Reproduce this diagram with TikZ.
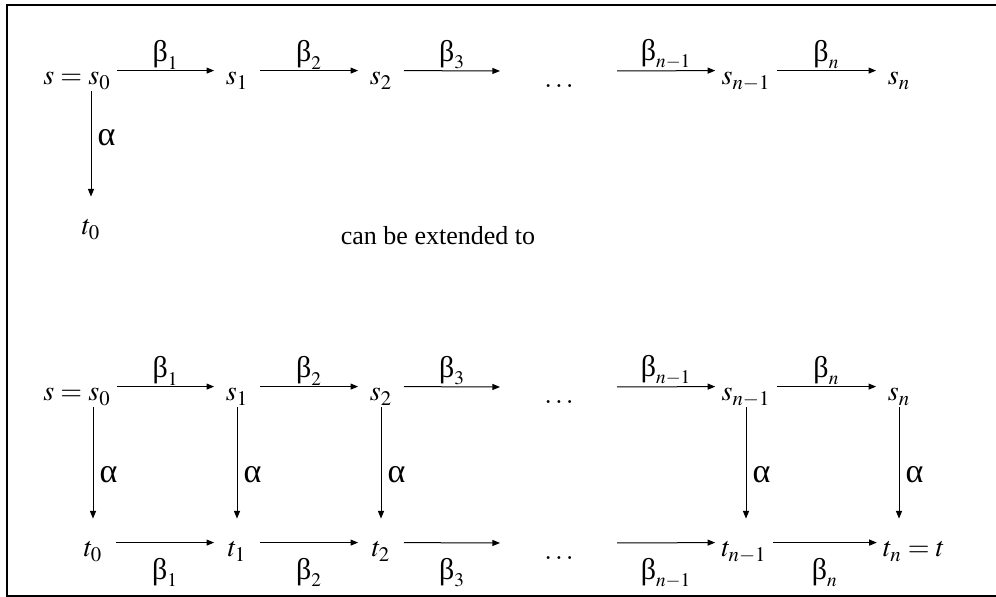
\documentclass[tikz,border=0pt]{standalone}
\usepackage{amsmath}
\usepackage{mathptmx}
\usepackage[no-math]{fontspec}
\setmainfont{Liberation Serif}
\usetikzlibrary{arrows.meta,positioning}

\newcommand{\gbeta}{\text{\fontsize{15}{15}\selectfont β}}
\newcommand{\galpha}{\text{\fontsize{17}{17}\selectfont α}}

\begin{document}
\begin{tikzpicture}[x=0.5pt, y=-0.5pt, font=\fontsize{13}{15}\selectfont,
    >={Triangle[length=3.8pt,width=3pt]},
    obj/.style={anchor=base, inner xsep=3pt, inner ysep=1pt,
                font=\fontsize{14}{16}\selectfont,
                minimum width=22.5pt, text height=6pt, text depth=2pt},
    hor/.style={->, line width=0.5pt},
    vert/.style={->, line width=0.5pt, shorten >=12pt},
    lab/.style={inner sep=0.5pt},
    frame/.style={line width=1pt}]

  \useasboundingbox (0,0) rectangle (996,597);
  %% open frame
  \draw[frame] (996,5) -- (7,5) -- (7,596) -- (996,596);

  %% Upper diagram: a single alpha step
  \node[obj] (s0) at (77,85)  {$s=s_0$};
  \node[obj] (s1) at (237,85) {$s_1$};
  \node[obj] (s2) at (381,85) {$s_2$};
  \node[obj] (sd) at (559,88) {$\ldots$};
  \node[obj] (sm) at (746,85) {$s_{n-1}$};
  \node[obj] (sn) at (899,85) {$s_n$};
  \node[obj] (t0) at (91,235) {$t_0$};
  \coordinate (a3) at (500,71);
  \coordinate (a4) at (617,71);

  \draw[hor] (s0.north east) -- node[above,lab] {$\gbeta_1$} (s1.north west);
  \draw[hor] (s1.north east) -- node[above,lab] {$\gbeta_2$} (s2.north west);
  \draw[hor] (s2.north east) -- node[above,lab] {$\gbeta_3$} (a3);
  \draw[hor] (a4) -- node[above,lab] {$\gbeta_{n-1}$} (sm.north west);
  \draw[hor] (sm.north east) -- node[above,lab] {$\gbeta_n$} (sn.north west);
  \draw[vert] (s0.south -| t0) -- node[pos=.36,right,inner sep=3pt] {\galpha} (t0);

  \node[anchor=base] (ext) at (438,245) {can be extended to};

  %% Lower diagram: the completed ladder
  \node[obj] (bs0) at (77,401)  {$s=s_0$};
  \node[obj] (bs1) at (237,401) {$s_1$};
  \node[obj] (bs2) at (381,401) {$s_2$};
  \node[obj] (bsd) at (559,404) {$\ldots$};
  \node[obj] (bsm) at (746,401) {$s_{n-1}$};
  \node[obj] (bsn) at (899,401) {$s_n$};
  \node[obj] (bt0) at (93,557)  {$t_0$};
  \node[obj] (bt1) at (237,557) {$t_1$};
  \node[obj] (bt2) at (381,557) {$t_2$};
  \node[obj] (btd) at (559,560) {$\ldots$};
  \node[obj] (btm) at (744,557) {$t_{n-1}$};
  \node[obj] (btn) at (914,557) {$t_n=t$};
  \coordinate (b3) at (500,387);
  \coordinate (b4) at (617,387);
  \coordinate (c3) at (500,543);
  \coordinate (c4) at (617,543);

  %% top row
  \draw[hor] (bs0.north east) -- node[above,lab] {$\gbeta_1$} (bs1.north west);
  \draw[hor] (bs1.north east) -- node[above,lab] {$\gbeta_2$} (bs2.north west);
  \draw[hor] (bs2.north east) -- node[above,lab] {$\gbeta_3$} (b3);
  \draw[hor] (b4) -- node[above,lab] {$\gbeta_{n-1}$} (bsm.north west);
  \draw[hor] (bsm.north east) -- node[above,lab] {$\gbeta_n$} (bsn.north west);
  %% bottom row
  \draw[hor] (bt0.north east) -- node[below=7pt,lab] {$\gbeta_1$} (bt1.north west);
  \draw[hor] (bt1.north east) -- node[below=7pt,lab] {$\gbeta_2$} (bt2.north west);
  \draw[hor] (bt2.north east) -- node[below=7pt,lab] {$\gbeta_3$} (c3);
  \draw[hor] (c4) -- node[below=7pt,lab] {$\gbeta_{n-1}$} (btm.north west);
  \draw[hor] (btm.north east) -- node[below=7pt,lab] {$\gbeta_n$} (btn.north west);
  %% alpha columns
  \draw[vert] (bs0.south -| bt0) -- node[midway,right,inner sep=3pt] {\galpha} (bt0);
  \draw[vert] (bs1) -- node[midway,right,inner sep=3pt] {\galpha} (bt1);
  \draw[vert] (bs2) -- node[midway,right,inner sep=3pt] {\galpha} (bt2);
  \draw[vert] (bsm.south) -- node[midway,right,inner sep=3pt] {\galpha} (bsm.south |- btm.north);
  \draw[vert] (bsn.south) -- node[midway,right,inner sep=3pt] {\galpha} (bsn.south |- btn.north);
\end{tikzpicture}
\end{document}
